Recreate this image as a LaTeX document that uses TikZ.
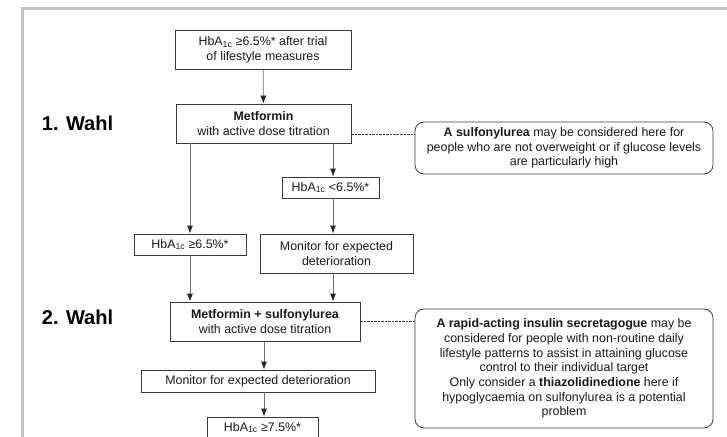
\documentclass[tikz,border=0pt]{standalone}
\usepackage{fontspec}
\setmainfont{Liberation Sans}
\usetikzlibrary{positioning,arrows.meta}
\definecolor{framegray}{HTML}{C4C4C4}
\definecolor{boxgray}{HTML}{3A3A3A}
\definecolor{linegray}{HTML}{6E6E6E}
\newcommand{\hba}{HbA\textsubscript{1c}}
\begin{document}
\begin{tikzpicture}[
     x=1pt, y=-1pt,
     % define styles
     box/.style={
         draw=boxgray,
         line width=0.8pt,
         fill=white,
         align=center,
         inner sep=2pt,
         text=black!90,
         font=\fontsize{12.4}{14.7}\selectfont
     },
     note/.style={
         box,
         rounded corners=9pt
     },
     link/.style={
         draw=linegray,
         line width=0.8pt,
         ->
     },
     hint/.style={
         draw=boxgray,
         line width=0.6pt,
         dash pattern=on 2.5pt off 1pt
     },
     choice/.style={
         font=\fontsize{20}{23}\selectfont\bfseries
     },
     >={Latex[length=8pt,width=6pt,color=black!85]}
]
\clip (0,0) rectangle (727,436);
% frame
\draw[framegray, line width=3pt] (22,460) -- (22,9) -- (760,9);

% main column
\node[box, minimum width=176pt, minimum height=39pt] (start) at (263,49.5)
     {\hba{} ≥6.5\%* after trial\\of lifestyle measures};
\node[box, minimum width=175pt, minimum height=39pt] (met) at (263.5,123.5)
     {\textbf{Metformin}\\with active dose titration};
\node[box, minimum width=97pt, minimum height=21pt] (low) at (330.5,187.5)
     {\hba{} <6.5\%*};
\node[box, minimum width=112pt, minimum height=21pt] (high) at (190,244.5)
     {\hba{} ≥6.5\%*};
\node[box, minimum width=153pt, minimum height=39pt] (mon) at (336.5,253.5)
     {Monitor for expected\\deterioration};
\node[box, minimum width=190pt, minimum height=39pt] (metsu) at (265,321.5)
     {\textbf{Metformin + sulfonylurea}\\with active dose titration};
\node[box, minimum width=234pt, minimum height=22pt] (montwo) at (258,381)
     {Monitor for expected deterioration};
\node[box, minimum width=111pt, minimum height=21pt] (higher) at (262.5,427.5)
     {\hba{} ≥7.5\%*};

% side notes
\node[note, minimum width=298pt, minimum height=52pt] (sunote) at (564,148)
     {\textbf{A sulfonylurea} may be considered here for\\
      people who are not overweight or if glucose levels\\
      are particularly high};
\node[note, minimum width=298pt, minimum height=119pt] (secnote) at (564,368.5)
     {\textbf{A rapid-acting insulin secretagogue} may be\\
      considered for people with non-routine daily\\
      lifestyle patterns to assist in attaining glucose\\
      control to their individual target\\
      Only consider a \textbf{thiazolidinedione} here if\\
      hypoglycaemia on sulfonylurea is a potential\\
      problem};

% choice labels
\node[choice] (first) at (77.5,123.4) {1. Wahl};
\node[choice] (second) at (77.5,317.5) {2. Wahl};

% connectors
\draw[link] (start) -- (met);
\draw[link] (met.south -| high.north) -- (high.north);
\draw[link] (met.south -| 333,0) -- (low.north -| 333,0);
\draw[link] (low.south -| 333,0) -- (mon.north -| 333,0);
\draw[link] (high.south) -- (metsu.north -| high.south);
\draw[link] (mon.south -| 333,0) -- (metsu.north -| 333,0);
\draw[link] (metsu.south -| 264,0) -- (montwo.north -| 264,0);
\draw[link] (montwo.south -| 264,0) -- (higher.north -| 264,0);
\draw[hint] ([yshift=-10.5pt]met.east) -- ([yshift=-10.5pt]met.east -| sunote.west);
\draw[hint] (metsu.east) -- (metsu.east -| secnote.west);
\end{tikzpicture}
\end{document}
